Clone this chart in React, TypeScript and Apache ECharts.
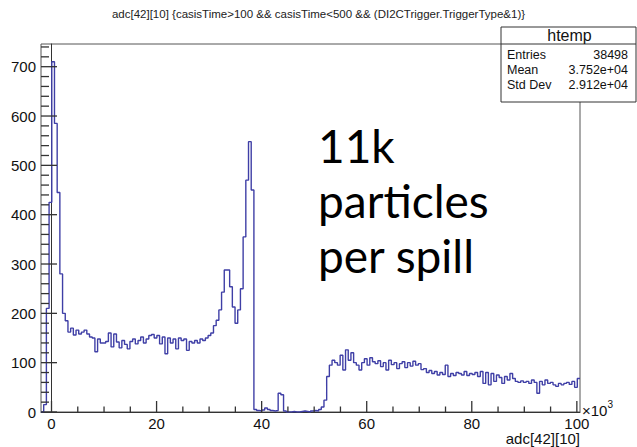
import React, { useEffect, useRef } from "react";
import * as echarts from "echarts";

// Histogram binning (x in units of 10^3)
const XMIN = -2;
const XMAX = 100.6;
const NBINS = 200;

// Bin contents, region by region
const peakCounts = [0, 15, 210, 425, 710, 585, 445, 280, 200];
const plateauCounts = [
  185, 162, 170, 156, 166, 158, 162, 166, 158, 152, 150, 122, 148, 140, 140, 143, 160, 132,
  158, 142, 130, 145, 137, 128, 143, 148, 138, 145, 152, 140, 148, 155, 157, 150, 155, 138,
  152, 118, 150, 140, 148, 128, 150, 145, 148, 125, 143, 140, 145, 140, 148, 145, 150, 155,
];
const bumpCounts = [160, 175, 186, 207, 243, 288, 288, 254, 213, 180, 207, 250, 355, 470, 548, 450];
const gapCounts = [5, 3, 2, 4, 8, 5, 3, 2, 3, 38, 35, 2, 0, 0, 1, 0, 0, 1, 2, 1, 0, 2, 3, 2, 5, 10];
const riseCounts = [24, 72, 95, 105, 100, 95, 115, 85, 126, 105, 120, 100, 95, 85, 100, 108, 95, 110, 102, 98, 104];
const tailCounts = [
  92, 100, 85, 105, 96, 100, 88, 98, 102, 90, 100, 93, 103, 95, 98, 86, 88, 80, 84, 78, 82, 75,
  80, 76, 95, 72, 78, 74, 80, 78, 75, 82, 74, 78, 76, 80, 72, 82, 58, 80, 55, 78, 62, 75, 70, 58,
  72, 65, 78, 68, 62, 60, 63, 60, 62, 58, 65, 60, 38, 62, 55, 65, 58, 60, 55, 52, 58, 55, 58, 60,
  56, 62, 50, 68,
];

// Axis ticks
const xTickValues = [0, 20, 40, 60, 80, 100];
const xMinorTickValues = [5, 10, 15, 25, 30, 35, 45, 50, 55, 65, 70, 75, 85, 90, 95];
const yTickValues = [0, 100, 200, 300, 400, 500, 600, 700];
const yMinorTickValues = [
  20, 40, 60, 80, 120, 140, 160, 180, 220, 240, 260, 280, 320, 340, 360, 380, 420, 440, 460, 480,
  520, 540, 560, 580, 620, 640, 660, 680, 720, 740,
];
const YMAX = 746;

// Stats box
const statsTitle = "htemp";
const statsLabels = ["Entries", "Mean", "Std Dev"];
const statsValues = ["38498", "3.752e+04", "2.912e+04"];

const titleText = "adc[42][10] {casisTime>100 && casisTime<500 && (DI2CTrigger.TriggerType&1)}";
const xAxisTitle = "adc[42][10]";
const noteLines = ["11k", "particles", "per spill"];

const FONT = "'Liberation Sans', Arial, Helvetica, sans-serif";
const LINE = "#3f3fa6";
const FRAME = "#333";
const TICK = "#333";

const X_MAJOR_LEN = 11;
const X_MINOR_LEN = 5.5;
const Y_MAJOR_LEN = 16;
const Y_MINOR_LEN = 8;

export default function App() {
  const ref = useRef<HTMLDivElement>(null);
  useEffect(() => {
    if (!ref.current) return;
    const chart = echarts.init(ref.current, undefined, { renderer: "svg" });
    const counts = [...peakCounts, ...plateauCounts, ...bumpCounts, ...gapCounts, ...riseCounts, ...tailCounts];
    const bw = (XMAX - XMIN) / NBINS;
    const pts: number[][] = counts.map((v, i) => [XMIN + i * bw, v]);
    pts.push([XMAX, counts[counts.length - 1]]);

    const statsX = 501;
    const statsY = 27;
    const statsW = 135;
    const headH = 17;
    const boxH = 75;

    const graphics: any[] = [
      {
        type: "text",
        left: "center",
        top: 8,
        style: { text: titleText, font: `11.5px ${FONT}`, fill: "#222" },
      },
      {
        type: "text",
        x: 580,
        y: 431,
        style: { text: xAxisTitle, font: `15px ${FONT}`, fill: "#111", textAlign: "right" },
      },
      {
        type: "text",
        x: 582,
        y: 399,
        style: {
          text: "{a|×10}{b|3}",
          rich: {
            a: { font: `15px ${FONT}`, fill: "#111", verticalAlign: "bottom" },
            b: { font: `10px ${FONT}`, fill: "#111", verticalAlign: "top", padding: [0, 0, 9, 0] },
          },
        },
      },
      {
        type: "rect",
        z: 10,
        shape: { x: statsX, y: statsY, width: statsW, height: boxH },
        style: { fill: "#fff", stroke: FRAME, lineWidth: 1 },
      },
      {
        type: "line",
        z: 11,
        shape: { x1: statsX, y1: statsY + headH, x2: statsX + statsW, y2: statsY + headH },
        style: { stroke: FRAME, lineWidth: 1 },
      },
      {
        type: "text",
        z: 11,
        x: statsX + statsW / 2 + 1,
        y: statsY + 0.5,
        style: { text: statsTitle, font: `16px ${FONT}`, fill: "#111", textAlign: "center" },
      },
    ];
    statsLabels.forEach((lab, i) => {
      graphics.push({
        type: "text",
        z: 11,
        x: statsX + 6,
        y: 48.5 + i * 15,
        style: { text: lab, font: `12.5px ${FONT}`, fill: "#111" },
      });
      graphics.push({
        type: "text",
        z: 11,
        x: statsX + statsW - 8,
        y: 48.5 + i * 15,
        style: { text: statsValues[i], font: `12.5px ${FONT}`, fill: "#111", textAlign: "right" },
      });
    });
    noteLines.forEach((t, i) => {
      graphics.push({
        type: "text",
        x: 318,
        y: 122 + i * 55,
        style: { text: t, font: `46px Lato, 'Open Sans', sans-serif`, fill: "#000" },
      });
    });

    chart.setOption({
      animation: false,
      backgroundColor: "#fff",
      grid: {
        left: 41,
        right: 57,
        top: 44,
        bottom: 35,
        show: true,
        borderColor: "#555",
        borderWidth: 1,
        backgroundColor: "transparent",
      },
      xAxis: {
        type: "value",
        min: XMIN,
        max: XMAX,
        position: "bottom",
        axisLine: { show: true, lineStyle: { color: FRAME, width: 1 } },
        axisTick: { show: false },
        axisLabel: { show: true, customValues: xTickValues, fontSize: 15, fontFamily: FONT, color: "#111", margin: 4 },
        splitLine: { show: false },
      },
      yAxis: {
        type: "value",
        min: 0,
        max: YMAX,
        position: "left",
        axisLine: { show: true, lineStyle: { color: FRAME, width: 1 } },
        axisTick: { show: false },
        axisLabel: { show: true, customValues: yTickValues, fontSize: 15, fontFamily: FONT, color: "#111", margin: 5 },
        splitLine: { show: false },
      },
      series: [
        {
          type: "line",
          step: "end",
          data: pts,
          showSymbol: false,
          symbol: "none",
          lineStyle: { color: LINE, width: 1.4 },
          silent: true,
          z: 3,
        },
      ],
      graphic: graphics,
    });

    // Ticks placed through the chart's own axis scales
    const tickLines: any[] = [];
    const toPx = (v: number[]) => {
      const p = chart.convertToPixel({ xAxisIndex: 0, yAxisIndex: 0 }, v) as any;
      return Array.isArray(p) ? p : [NaN, NaN];
    };
    const addX = (vals: number[], len: number) =>
      vals.forEach((v) => {
        const p = toPx([v, 0]);
        tickLines.push({
          type: "line",
          z: 20,
          shape: { x1: p[0], y1: p[1], x2: p[0], y2: p[1] - len },
          style: { stroke: TICK, lineWidth: 1.3 },
        });
      });
    const addY = (vals: number[], len: number) =>
      vals.forEach((v) => {
        const p = toPx([XMIN, v]);
        tickLines.push({
          type: "line",
          z: 20,
          shape: { x1: p[0], y1: p[1], x2: p[0] + len, y2: p[1] },
          style: { stroke: TICK, lineWidth: 1.3 },
        });
      });
    addX(xTickValues, X_MAJOR_LEN);
    addX(xMinorTickValues, X_MINOR_LEN);
    addY(yTickValues, Y_MAJOR_LEN);
    addY(yMinorTickValues, Y_MINOR_LEN);
    chart.setOption({ graphic: [...graphics, ...tickLines] });

    return () => chart.dispose();
  }, []);
  return <div ref={ref} style={{ position: "fixed", left: 0, top: 0, width: 637, height: 447 }} />;
}
